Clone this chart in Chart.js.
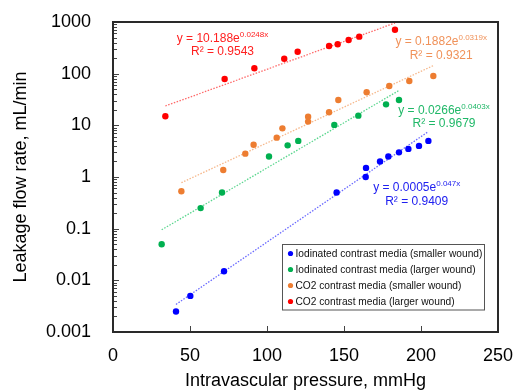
<!DOCTYPE html>
<html>
<head>
<meta charset="utf-8">
<script src="https://cdn.jsdelivr.net/npm/chart.js@4.4.1/dist/chart.umd.min.js"></script>
<style>
html,body{margin:0;padding:0;background:#fff;}
#wrap{width:514px;height:390px;position:relative;}
</style>
</head>
<body>
<div id="wrap"><canvas id="c" width="514" height="390"></canvas></div>
<script>
// ---- data ----
const seriesNames = [
  'Iodinated contrast media (smaller wound)',
  'Iodinated contrast media (larger wound)',
  'CO2 contrast media (smaller wound)',
  'CO2 contrast media (larger wound)'
];
const xIodSmall = [40.9, 50.2, 72.1, 145.2, 164.1, 164.3, 173.4, 178.8, 185.7, 191.8, 198.7, 204.8];
const yIodSmall = [0.0025, 0.005, 0.015, 0.5, 1.0, 1.5, 2.0, 2.5, 3.0, 3.5, 4.0, 5.0];
const xIodLarge = [31.6, 56.9, 70.8, 101.3, 113.4, 120.3, 143.7, 159.3, 177.3, 185.7];
const yIodLarge = [0.05, 0.25, 0.5, 2.5, 4.1, 5.0, 10.2, 15.4, 25.5, 30.9];
const xCo2Small = [44.4, 71.6, 85.9, 91.3, 106.3, 110.0, 126.7, 126.7, 140.3, 146.3, 164.7, 179.4, 192.4, 208.0];
const yCo2Small = [0.53, 1.37, 2.83, 4.22, 5.77, 8.75, 11.8, 14.7, 17.9, 30.9, 43.6, 57.7, 72.1, 90.2];
const xCo2Large = [34.0, 72.5, 91.8, 111.2, 119.9, 140.3, 145.9, 153.0, 159.9, 183.1];
const yCo2Large = [15.0, 78.9, 127, 195, 266, 343, 370, 449, 520, 710];
// exponential trendline coefficients (y = a e^(b x)) printed on the chart
const trendA = [0.0005, 0.0266, 0.1882, 10.188];
const trendB = [0.047, 0.0403, 0.0319, 0.0248];
const trendR2 = ['0.9409', '0.9679', '0.9321', '0.9543'];
const xTicks = [0, 50, 100, 150, 200, 250];
const yDecades = [0.001, 0.01, 0.1, 1, 10, 100, 1000];

const pointColors = ['#0000FF', '#00B050', '#ED7D31', '#FF0000'];
const trendColors = ['#6A6AFF', '#5AD68E', '#F6B88C', '#FF6A6A'];
const textColors = ['#2020F0', '#20B868', '#F0925A', '#FF2020'];

const xs = [xIodSmall, xIodLarge, xCo2Small, xCo2Large];
const ys = [yIodSmall, yIodLarge, yCo2Small, yCo2Large];

const datasets = [];
for (let i = 0; i < 4; i++) {
  const x0 = Math.min(...xs[i]), x1 = Math.max(...xs[i]);
  datasets.push({
    label: 'trend' + i,
    data: [x0, x1].map(x => ({x: x, y: trendA[i] * Math.exp(trendB[i] * x)})),
    showLine: true, pointRadius: 0, borderColor: trendColors[i],
    borderWidth: 1.3, borderDash: [1.5, 1.5], order: 2
  });
}
for (let i = 0; i < 4; i++) {
  datasets.push({
    label: seriesNames[i],
    data: xs[i].map((x, k) => ({x: x, y: ys[i][k]})),
    pointRadius: 3.2, pointBackgroundColor: pointColors[i], pointBorderWidth: 0,
    borderColor: pointColors[i], showLine: false, order: 1
  });
}

// equation label anchor (centre x, baseline y of first line)
const eqPos = [[416.7, 191], [444, 113.5], [441.2, 45], [222.5, 41.5]];

const FONT = '"Liberation Sans", Arial, sans-serif';

const decorPlugin = {
  id: 'decor',
  afterDatasetsDraw(chart) {
    const ctx = chart.ctx, a = chart.chartArea;
    const sx = chart.scales.x, sy = chart.scales.y;
    ctx.save();
    // tick marks (inward)
    ctx.strokeStyle = '#444'; ctx.lineWidth = 1;
    ctx.beginPath();
    xTicks.forEach(v => {
      if (v <= 0 || v >= 250) return;
      const px = Math.round(sx.getPixelForValue(v)) + 0.5;
      ctx.moveTo(px, a.bottom); ctx.lineTo(px, a.bottom - 6);
    });
    yDecades.forEach((d, k) => {
      const py = Math.round(sy.getPixelForValue(d)) + 0.5;
      ctx.moveTo(a.left, py); ctx.lineTo(a.left + 6, py);
      if (k < yDecades.length - 1) {
        for (let m = 2; m <= 9; m++) {
          const pm = Math.round(sy.getPixelForValue(d * m)) + 0.5;
          ctx.moveTo(a.left, pm); ctx.lineTo(a.left + 4, pm);
        }
      }
    });
    ctx.stroke();
    // frame
    ctx.strokeStyle = '#2a2a2a'; ctx.lineWidth = 2;
    ctx.strokeRect(a.left, a.top, a.right - a.left, a.bottom - a.top);

    // equations
    for (let i = 0; i < 4; i++) {
      const [cx, by] = eqPos[i];
      ctx.fillStyle = textColors[i];
      const main = 'y = ' + trendA[i] + 'e';
      const sup = trendB[i] + 'x';
      ctx.font = '12px ' + FONT;
      const w1 = ctx.measureText(main).width;
      ctx.font = '8px ' + FONT;
      const w2 = ctx.measureText(sup).width;
      const left = cx - (w1 + w2) / 2;
      ctx.textBaseline = 'alphabetic'; ctx.textAlign = 'left';
      ctx.font = '12px ' + FONT;
      ctx.fillText(main, left, by);
      ctx.font = '8px ' + FONT;
      ctx.fillText(sup, left + w1, by - 5);
      ctx.font = '12px ' + FONT;
      ctx.textAlign = 'center';
      ctx.fillText('R\u00B2 = ' + trendR2[i], cx, by + 13.5);
    }

    // legend box
    const lx = 282.5, ly = 244.5, lw = 202, lh = 65.5;
    ctx.fillStyle = '#fff';
    ctx.fillRect(lx, ly, lw, lh);
    ctx.strokeStyle = '#555'; ctx.lineWidth = 1;
    ctx.strokeRect(lx, ly, lw, lh);
    ctx.font = '10.2px ' + FONT;
    ctx.textAlign = 'left'; ctx.textBaseline = 'middle';
    for (let i = 0; i < 4; i++) {
      const ry = 253.5 + i * 16;
      ctx.fillStyle = pointColors[i];
      ctx.beginPath(); ctx.arc(290.5, ry, 2.6, 0, Math.PI * 2); ctx.fill();
      ctx.fillStyle = '#111';
      ctx.fillText(seriesNames[i], 295.5, ry + 0.5);
    }
    ctx.restore();
  }
};

new Chart(document.getElementById('c'), {
  type: 'scatter',
  data: { datasets: datasets },
  options: {
    responsive: false, animation: false,
    layout: { padding: { top: 22, right: 16, left: 0, bottom: 0 } },
    plugins: { legend: { display: false }, tooltip: { enabled: false } },
    scales: {
      x: {
        type: 'linear', min: 0, max: 250,
        afterBuildTicks: s => { s.ticks = xTicks.map(v => ({value: v})); },
        afterFit: s => { s.height = 58; s.paddingLeft = 0; s.paddingRight = 0; },
        grid: { display: false, drawTicks: false },
        border: { display: false },
        ticks: { font: { family: FONT, size: 18 }, color: '#000', padding: 13, maxRotation: 0, autoSkip: false },
        title: { display: true, text: 'Intravascular pressure, mmHg', font: { family: FONT, size: 18 }, color: '#000', padding: { top: 0, bottom: -2 } }
      },
      y: {
        type: 'logarithmic', min: 0.001, max: 1000,
        afterBuildTicks: s => { s.ticks = yDecades.map(v => ({value: v})); },
        afterFit: s => { s.width = 113; s.paddingTop = 0; s.paddingBottom = 0; },
        grid: { display: false, drawTicks: false },
        border: { display: false },
        ticks: { font: { family: FONT, size: 18 }, color: '#000', padding: 22, autoSkip: false,
          callback: v => String(v) },
        title: { display: true, text: 'Leakage flow rate, mL/min', font: { family: FONT, size: 18 }, color: '#000', padding: { top: 10, bottom: 0 } }
      }
    }
  },
  plugins: [decorPlugin]
});
</script>
</body>
</html>
